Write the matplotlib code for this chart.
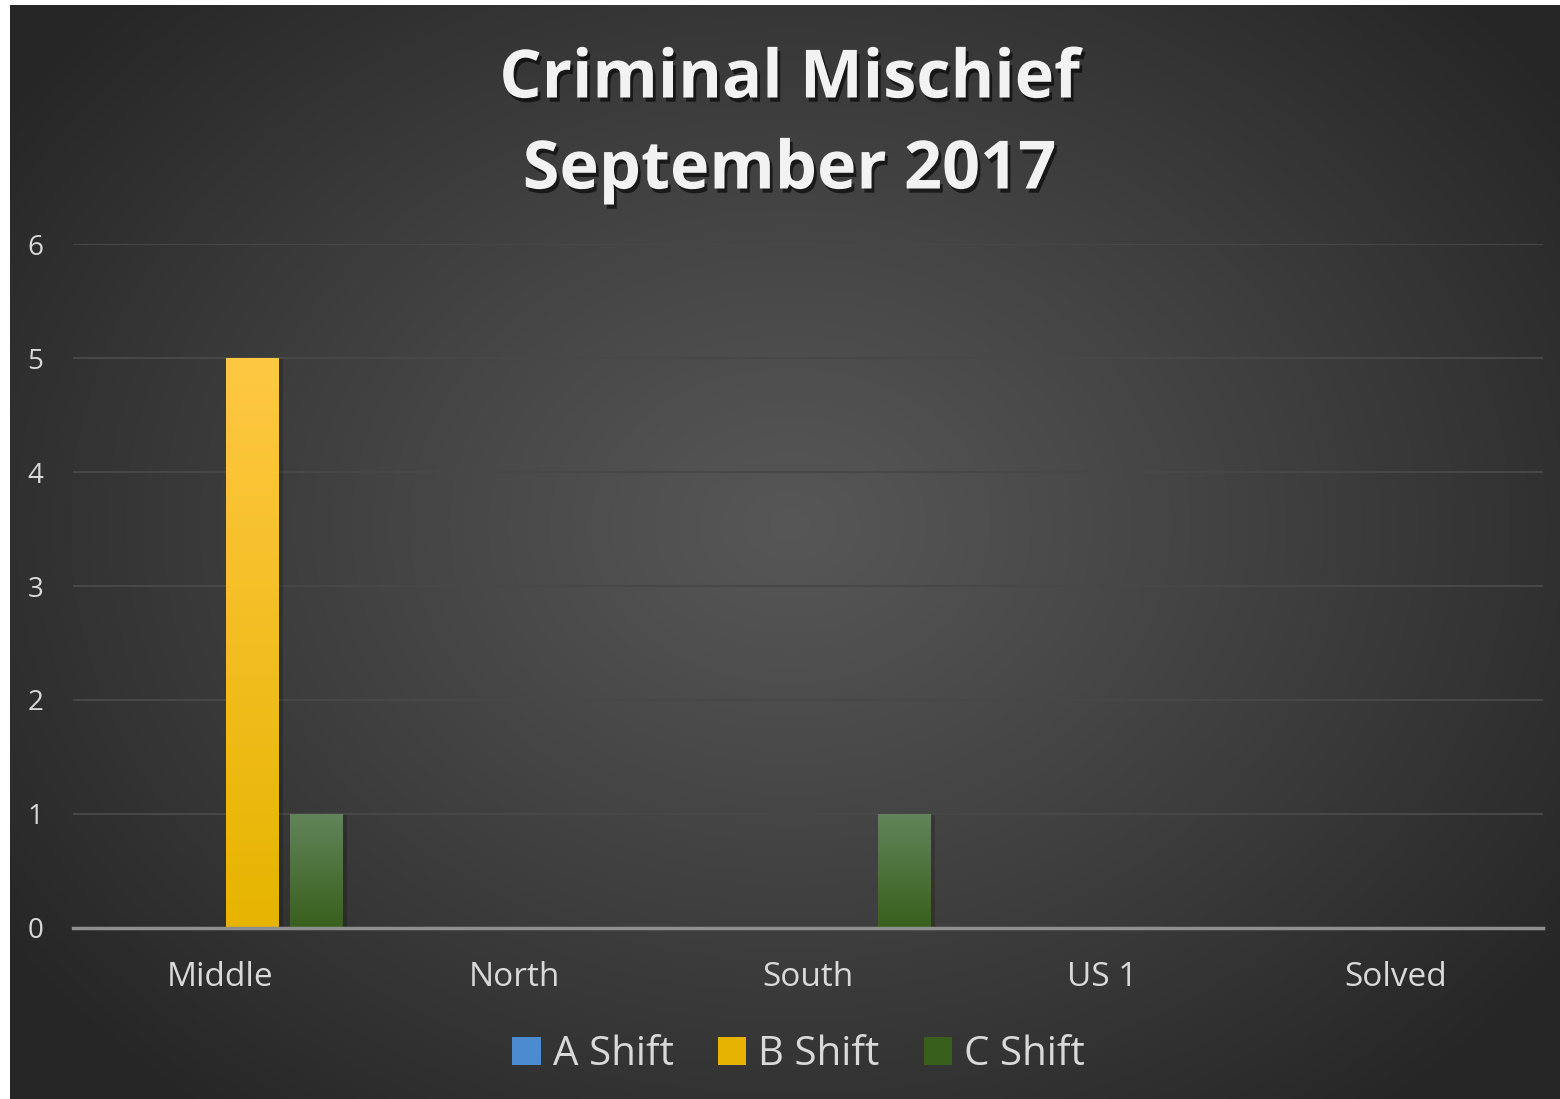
import numpy as np
import matplotlib
matplotlib.use("Agg")
import matplotlib.pyplot as plt
from matplotlib.colors import LinearSegmentedColormap
from matplotlib.patches import Patch
import matplotlib.patheffects as pe

categories = ["Middle", "North", "South", "US 1", "Solved"]
a_shift = [0, 0, 0, 0, 0]
b_shift = [5, 0, 0, 0, 0]
c_shift = [1, 0, 1, 0, 0]
series_names = ["A Shift", "B Shift", "C Shift"]
yticks = [0, 1, 2, 3, 4, 5, 6]

plt.rcParams['font.family'] = ['Open Sans', 'DejaVu Sans']

fig = plt.figure(figsize=(15.6, 10.99), dpi=100, facecolor="white")

# background with radial gradient
bg = fig.add_axes([10 / 1560, 0, 1550 / 1560, 1094 / 1099])
yy, xx = np.mgrid[0:1094, 0:1550]
r = np.sqrt(((xx - 780) / 950.0) ** 2 + ((yy - 520) / 750.0) ** 2)
r = np.clip(r, 0, 1)
shade = 0.34 - (0.34 - 0.15) * r ** 1.1
bg.imshow(np.dstack([shade, shade, shade]), aspect="auto", extent=[0, 1, 0, 1])
bg.set_axis_off()

ax = fig.add_axes([73 / 1560, (1099 - 928) / 1099, 1470 / 1560, 684 / 1099])
ax.set_facecolor("none")
ax.patch.set_alpha(0)

x = np.arange(len(categories))
step = 64 / 294
width = 53 / 294
# 4 slots per group, the first one is empty in the original
offsets = [-0.5 * step, 0.5 * step, 1.5 * step]

grads = [
    ("#76aadf", "#4a8ccf"),
    ("#ffc843", "#e6b400"),
    ("#62845a", "#38601c"),
]

for vals, off, name, (top, bot) in zip([a_shift, b_shift, c_shift], offsets, series_names, grads):
    bars = ax.bar(x + off, vals, width, color=bot, label=name, zorder=3)
    cmap = LinearSegmentedColormap.from_list(name, [bot, top])
    for b in bars:
        h = b.get_height()
        if h <= 0:
            continue
        x0 = b.get_x()
        b.set_path_effects([pe.SimplePatchShadow(offset=(3, -1), alpha=0.18, shadow_rgbFace="black"), pe.Normal()])
        img = ax.imshow(np.linspace(0, 1, 256).reshape(-1, 1), cmap=cmap, origin="lower",
                        extent=[x0, x0 + b.get_width(), 0, h], aspect="auto", zorder=4)
        img.set_clip_path(b)

ax.set_xlim(-0.5, len(categories) - 0.5)
ax.set_ylim(0, 6)
ax.set_yticks(yticks)
ax.set_xticks(x)
ax.set_xticklabels(categories)
ax.grid(axis="y", color="#474747", linewidth=1.5, zorder=0)
for s in ["top", "right", "left"]:
    ax.spines[s].set_visible(False)
ax.spines["bottom"].set_color("#8f8f8f")
ax.spines["bottom"].set_linewidth(2.5)
ax.spines["bottom"].set_zorder(5)
ax.tick_params(axis="both", length=0, labelcolor="#d9d9d9")
ax.tick_params(axis="x", pad=24, labelsize=24)
ax.tick_params(axis="y", pad=21.5, labelsize=20)

for txt, ypix in [("Criminal Mischief", 80), ("September 2017", 171)]:
    fig.text(0.506, 1 - ypix / 1099, txt, ha="center", va="center",
             fontsize=48, fontweight="bold", color="#f2f2f2",
             path_effects=[pe.withSimplePatchShadow(offset=(2, -3), alpha=0.6, shadow_rgbFace="black")])

handles = [Patch(facecolor=g[1], edgecolor="none", label=n) for g, n in zip(grads, series_names)]
leg = fig.legend(handles=handles, loc="center", bbox_to_anchor=(0.512, 1 - 1055 / 1099), ncol=3,
                 frameon=False, fontsize=29, labelcolor="#d9d9d9", handlelength=0.7, handleheight=0.7,
                 handletextpad=0.3, columnspacing=1.1)

fig.savefig("out.png", dpi=100, facecolor="white")
